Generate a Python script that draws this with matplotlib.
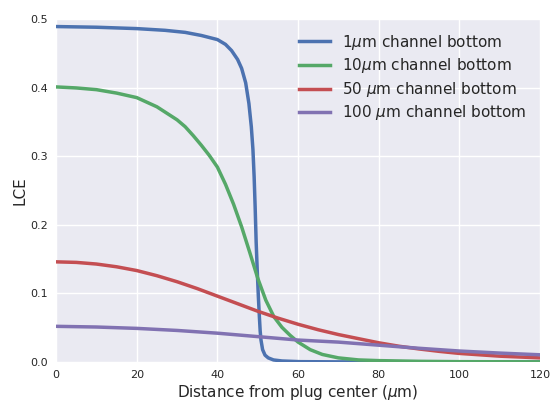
import numpy as np
import matplotlib
matplotlib.use('Agg')
import matplotlib.pyplot as plt

# LCE vs distance from plug center, one curve per channel-bottom roughness
x_1um = [0, 10, 20, 27, 32, 36, 40, 42, 43.5, 45, 46, 47, 47.8, 48.4, 48.8,
         49.1, 49.35, 49.6, 49.9, 50.15, 50.4, 50.6, 50.8, 51.2, 51.8, 52.6,
         53.9, 56, 60.5, 70, 120]
lce_1um = [0.489, 0.488, 0.486, 0.4835, 0.4805, 0.476, 0.470, 0.463, 0.454,
           0.441, 0.428, 0.407, 0.377, 0.343, 0.310, 0.270, 0.226, 0.175,
           0.129, 0.095, 0.066, 0.045, 0.032, 0.018, 0.010, 0.006, 0.003,
           0.0015, 0.0005, 0.0002, 0.0001]

x_10um = [0, 5, 10, 15, 20, 25, 30, 32, 34, 36, 38, 40, 42, 44, 46, 48, 50,
          52, 54, 56, 58, 60, 63, 66, 70, 75, 80, 90, 100, 120]
lce_10um = [0.401, 0.3995, 0.397, 0.392, 0.3854, 0.372, 0.353, 0.343, 0.330,
            0.316, 0.301, 0.284, 0.259, 0.230, 0.197, 0.160, 0.122, 0.090,
            0.066, 0.0505, 0.039, 0.029, 0.018, 0.011, 0.006, 0.003, 0.002,
            0.001, 0.0005, 0.0002]

x_50um = [0, 5, 10, 15, 20, 25, 30, 35, 40, 45, 50, 55, 60, 65, 70, 75, 80,
          85, 90, 95, 100, 110, 120]
lce_50um = [0.146, 0.1452, 0.1428, 0.1388, 0.1333, 0.1258, 0.117, 0.107,
            0.096, 0.085, 0.074, 0.064, 0.055, 0.047, 0.040, 0.034, 0.028,
            0.023, 0.019, 0.0155, 0.0125, 0.0085, 0.006]

x_100um = [0, 10, 20, 30, 40, 50, 60, 70, 80, 90, 100, 110, 120]
lce_100um = [0.052, 0.051, 0.049, 0.046, 0.042, 0.037, 0.032, 0.029, 0.0245,
             0.020, 0.016, 0.013, 0.0105]

labels = [r'1$\mu$m channel bottom', r'10$\mu$m channel bottom',
          r'50 $\mu$m channel bottom', r'100 $\mu$m channel bottom']
colors = ['#4C72B0', '#55A868', '#C44E52', '#8172B2']

plt.rcParams.update({
    'axes.facecolor': '#EAEAF2',
    'axes.edgecolor': 'white',
    'axes.grid': True,
    'grid.color': 'white',
    'grid.linewidth': 1.0,
    'axes.axisbelow': True,
    'xtick.major.size': 0,
    'ytick.major.size': 0,
    'xtick.color': '#262626',
    'ytick.color': '#262626',
    'axes.labelcolor': '#262626',
    'text.color': '#262626',
    'font.family': 'DejaVu Sans',
})

fig = plt.figure(figsize=(5.5, 4), dpi=100)
ax = fig.add_axes([0.102, 0.095, 0.880, 0.8575])

series = [(x_1um, lce_1um), (x_10um, lce_10um), (x_50um, lce_50um), (x_100um, lce_100um)]
for (xs, ys), lab, c in zip(series, labels, colors):
    ax.plot(xs, ys, color=c, lw=2.5, label=lab, solid_joinstyle='round')

for s in ax.spines.values():
    s.set_visible(False)

ax.set_xlim(0, 120)
ax.set_ylim(0, 0.5)
ax.set_xticks([0, 20, 40, 60, 80, 100, 120])
ax.set_yticks([0.0, 0.1, 0.2, 0.3, 0.4, 0.5])
ax.tick_params(labelsize=8, pad=6)
ax.set_xlabel(r'Distance from plug center ($\mu$m)', fontsize=11, labelpad=2)
ax.set_ylabel('LCE', fontsize=11, labelpad=2)
ax.legend(loc='upper right', frameon=False, fontsize=11, handlelength=2.0,
          labelspacing=0.3, bbox_to_anchor=(1.0, 1.0))

fig.savefig('out.png', dpi=100)
